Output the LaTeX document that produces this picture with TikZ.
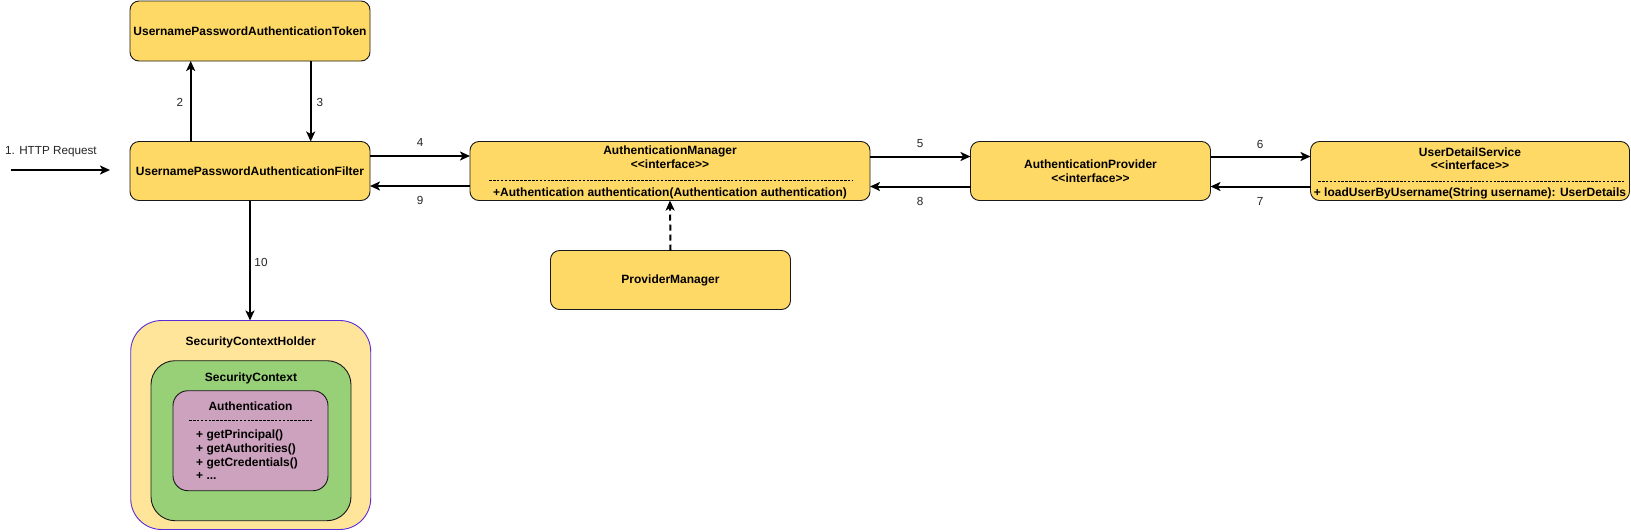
\documentclass[tikz,border=0pt]{standalone}
\usepackage{fontspec}
\setmainfont{Liberation Sans}
\usetikzlibrary{arrows.meta,calc}
\definecolor{boxyellow}{HTML}{FFD966}
\definecolor{holderfill}{HTML}{FFE599}
\definecolor{holderline}{HTML}{5B2DD8}
\definecolor{ctxfill}{HTML}{97D077}
\definecolor{authfill}{HTML}{CDA2BE}
\begin{document}
\begin{tikzpicture}[x=1pt,y=-1pt,
  box/.style={draw=black!90, line width=0.9pt, fill=boxyellow, rounded corners=9pt, inner sep=0pt, outer sep=0pt},
  txt/.style={font=\fontsize{12}{14}\bfseries\selectfont, inner sep=0pt, align=center},
  elab/.style={font=\fontsize{11.7}{13}\selectfont, inner sep=0pt, text=black!85},
  arr/.style={line width=2pt, -{Stealth[length=10pt,width=9pt,inset=2.5pt]}},
  sep/.style={line width=0.6pt, dash pattern=on 2.6pt off 1.3pt}
]
\fill[white] (0,0) rectangle (1631,531);
\useasboundingbox (0,0) rectangle (1631,531);

% main boxes
\node[box, txt, minimum width=240pt, minimum height=60pt] (tok) at (250,31) {UsernamePasswordAuthenticationToken};
\node[box, txt, minimum width=240pt, minimum height=59pt] (filt) at (250,171) {UsernamePasswordAuthenticationFilter};
\node[box, minimum width=400pt, minimum height=59pt] (am) at (670,171) {};
\node[txt] (amt) at (670,151) {AuthenticationManager};
\node[txt] (ami) at (670,164.5) {<{}<interface>{}>};
\node[txt] (amm) at (670,193) {+Authentication authentication(Authentication authentication)};
\draw[sep] (489,180) -- (852,180);

\node[box, txt, minimum width=240pt, minimum height=59pt] (pm) at (670.5,280) {ProviderManager};

\node[box, txt, minimum width=240pt, minimum height=59pt] (ap) at (1090.5,171) {AuthenticationProvider\\<{}<interface>{}>};

\node[box, minimum width=319pt, minimum height=59pt] (uds) at (1470,171) {};
\node[txt] (udst) at (1470,152) {UserDetailService};
\node[txt] (udsi) at (1470,165.5) {<{}<interface>{}>};
\node[txt] (udsm) at (1470,193.5) {+ loadUserByUsername(String username): UserDetails};
\draw[sep] (1318,181) -- (1624,181);

% security context holder
\node[draw=holderline, line width=0.9pt, fill=holderfill, rounded corners=31pt, minimum width=240pt, minimum height=209pt, inner sep=0pt, outer sep=0pt] (sch) at (250.7,425) {};
\node[txt] (scht) at (250.7,342) {SecurityContextHolder};
\node[draw=black!90, line width=0.9pt, fill=ctxfill, rounded corners=24pt, minimum width=200pt, minimum height=160pt, inner sep=0pt, outer sep=0pt] (sc) at (251,440.7) {};
\node[txt] (sct) at (251,378) {SecurityContext};
\node[draw=black!90, line width=0.9pt, fill=authfill, rounded corners=15pt, minimum width=155pt, minimum height=100pt, inner sep=0pt, outer sep=0pt] (auth) at (250.5,440.7) {};
\node[txt] (autht) at (250.5,406) {Authentication};
\draw[sep] (189,420.7) -- (312,420.7);
\node[txt, align=left, anchor=north west, font=\fontsize{12}{13.8}\bfseries\selectfont] (authm) at (196,429.5) {+ getPrincipal()\\+ getAuthorities()\\+ getCredentials()\\+ ...};

% connectors
\coordinate (hs) at (11,170);
\node[elab, anchor=west] (http) at (5,152) {1. HTTP Request};
\draw[arr] (hs) -- ([xshift=-20pt]filt.west |- hs);

\draw[arr] ($(filt.north)+(-59.3,0)$) -- ($(tok.south)+(-59.3,0)$);
\node[elab] (l2) at (180,102) {2};
\draw[arr] ($(tok.south)+(60.7,0)$) -- ($(filt.north)+(60.7,0)$);
\node[elab] (l3) at (320,102) {3};

\draw[arr] (filt.east |- 0,156) -- (am.west |- 0,156);
\node[elab] (l4) at (420,142) {4};
\draw[arr] (am.west |- 0,186) -- (filt.east |- 0,186);
\node[elab] (l9) at (420,200) {9};

\draw[arr] (am.east |- 0,156.5) -- (ap.west |- 0,156.5);
\node[elab] (l5) at (920,144) {5};
\draw[arr] (ap.west |- 0,186.5) -- (am.east |- 0,186.5);
\node[elab] (l8) at (920,201) {8};

\draw[arr] (ap.east |- 0,156.5) -- (uds.west |- 0,156.5);
\node[elab] (l6) at (1260,144) {6};
\draw[arr] (uds.west |- 0,186.5) -- (ap.east |- 0,186.5);
\node[elab] (l7) at (1260,201) {7};

\draw[arr, dash pattern=on 6pt off 4pt] (pm.north) -- (am.south);

\draw[arr] (filt.south) -- (filt.south |- sch.north);
\node[elab] (l10) at (261,262) {10};
\end{tikzpicture}
\end{document}
